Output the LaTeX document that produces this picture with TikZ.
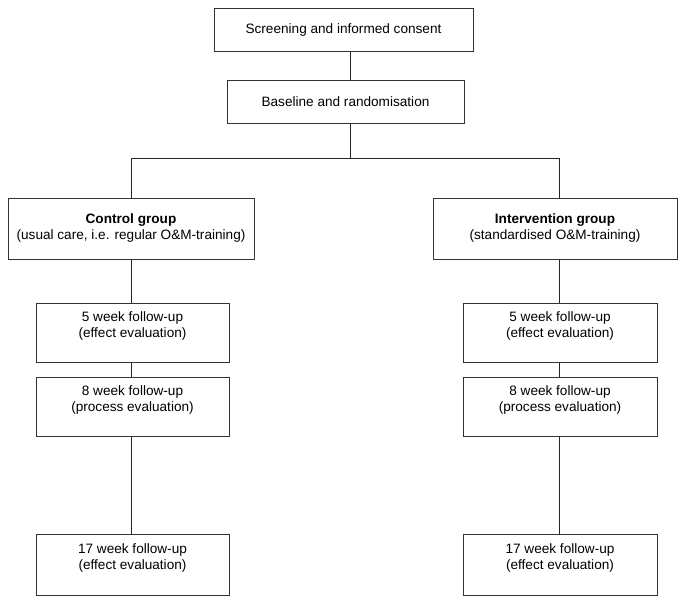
\documentclass[tikz,border=0pt]{standalone}
\usepackage{fontspec}
\setmainfont{Liberation Sans}
\newcommand{\upbox}[2]{\raisebox{#1}[\height][\depth]{\begin{tabular}{@{}c@{}}#2\end{tabular}}}
\begin{document}
\begin{tikzpicture}[x=1pt,y=-1pt,
  box/.style={draw=black!80, line width=1pt, inner sep=0pt, align=center,
    font=\fontsize{13.6}{16}\selectfont, text=black},
  conn/.style={draw=black!85, line width=1pt}]
\useasboundingbox (0,0) rectangle (685,605);
\fill[white] (0,0) rectangle (685,605);
% top boxes
\node[box, minimum width=259pt, minimum height=43pt] (top) at (343.5,29.5) {Screening and informed consent};
\node[box, minimum width=237pt, minimum height=43pt] (base) at (345.5,101.5) {Baseline and randomisation};
% groups
\node[box, minimum width=246pt, minimum height=61pt] (ctrl) at (131,228.5)
  {\upbox{0pt}{\textbf{Control group}\\(usual care, i.e. regular O\&M-training)}};
\node[box, minimum width=244pt, minimum height=61pt] (intv) at (555,228.5)
  {\upbox{0pt}{\textbf{Intervention group}\\(standardised O\&M-training)}};
% left column
\node[box, minimum width=193pt, minimum height=59pt] (c5) at (132.5,332.5)
  {\upbox{6.5pt}{5 week follow-up\\(effect evaluation)}};
\node[box, minimum width=193pt, minimum height=59pt] (c8) at (132.5,406.5)
  {\upbox{6.5pt}{8 week follow-up\\(process evaluation)}};
\node[box, minimum width=193pt, minimum height=61pt] (c17) at (132.5,564.5)
  {\upbox{6.5pt}{17 week follow-up\\(effect evaluation)}};
% right column
\node[box, minimum width=194pt, minimum height=59pt] (i5) at (560,332.5)
  {\upbox{6.5pt}{5 week follow-up\\(effect evaluation)}};
\node[box, minimum width=194pt, minimum height=59pt] (i8) at (560,406.5)
  {\upbox{6.5pt}{8 week follow-up\\(process evaluation)}};
\node[box, minimum width=194pt, minimum height=61pt] (i17) at (560,564.5)
  {\upbox{6.5pt}{17 week follow-up\\(effect evaluation)}};
% connector coordinates
\coordinate (spine) at (350.5,0);
\coordinate (hl) at (131,158);
\coordinate (hr) at (559,158);
% connectors
\draw[conn] (top.south -| spine) -- (base.north -| spine);
\draw[conn] (base.south -| spine) -- (spine |- hl);
\draw[conn] (hl) -- (hr);
\draw[conn] (hl) -- (ctrl.north -| hl);
\draw[conn] (hr) -- (intv.north -| hr);
\draw[conn] (ctrl.south -| hl) -- (c5.north -| hl);
\draw[conn] (c5.south -| hl) -- (c8.north -| hl);
\draw[conn] (c8.south -| hl) -- (c17.north -| hl);
\draw[conn] (intv.south -| hr) -- (i5.north -| hr);
\draw[conn] (i5.south -| hr) -- (i8.north -| hr);
\draw[conn] (i8.south -| hr) -- (i17.north -| hr);
\end{tikzpicture}
\end{document}
